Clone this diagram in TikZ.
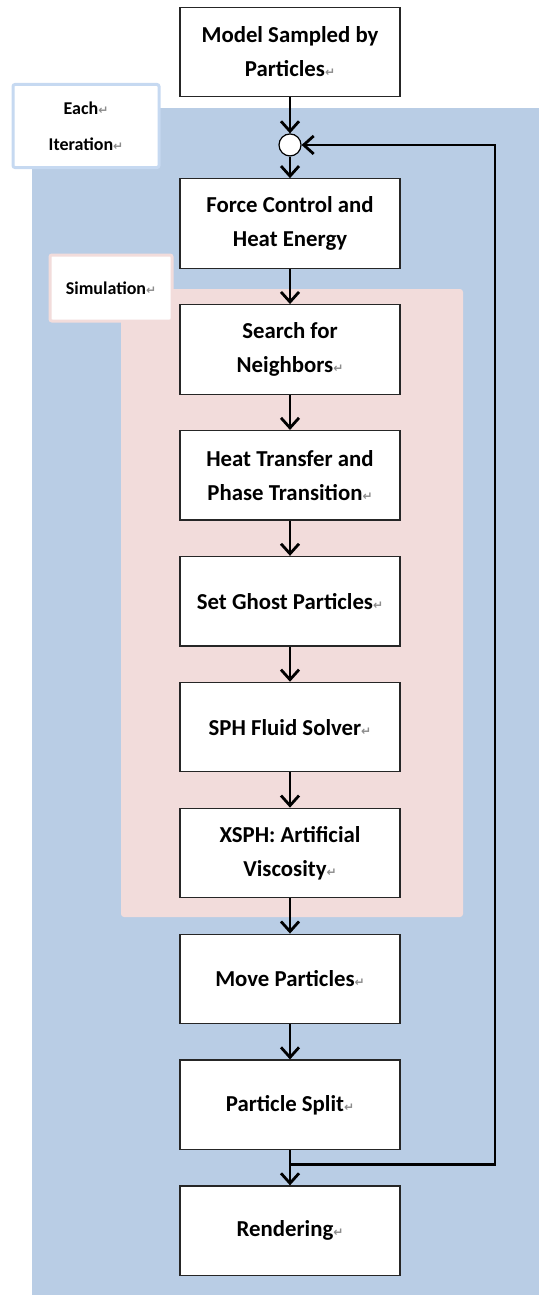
\documentclass[tikz,border=0pt]{standalone}
\usepackage{fontspec}
\setmainfont{Carlito}
\newfontfamily\marksfont{DejaVu Sans}
\usetikzlibrary{arrows.meta, positioning}

\definecolor{iterblue}{HTML}{B9CDE5}
\definecolor{iteredge}{HTML}{C6D9F1}
\definecolor{simpink}{HTML}{F2DCDB}
\newcommand{\parmark}{{\marksfont\fontsize{6}{6}\selectfont\color{black!45}↵}}

\begin{document}
\begin{tikzpicture}[x=0.5pt, y=-0.5pt,
        stepbox/.style={draw=black!85, line width=0.6pt, fill=white, minimum width=110pt, minimum height=44.75pt, align=center, font=\bfseries\fontsize{11.4}{17}\selectfont},
        tagbox/.style={fill=white, line width=1.5pt, rounded corners=1pt, align=center, font=\bfseries\fontsize{9}{18}\selectfont},
        flow/.style={-{Straight Barb[length=5pt, width=9pt]}, line width=1.4pt}]
        \useasboundingbox (0,0) rectangle (539,1295);

        % background regions
        \fill[iterblue] (32,108) rectangle (539,1295);
        \fill[simpink, rounded corners=1.5pt] (121,289) rectangle (463,917);
        \node[tagbox, draw=iteredge, minimum width=73pt, minimum height=41.5pt] (iter) at (86,126) {Each\parmark\\Iteration\parmark};
        \node[tagbox, draw=simpink, minimum width=61pt, minimum height=33pt] (sim) at (111,288) {Simulation\parmark};

        \node[stepbox] (model) at (290,52) {Model Sampled by\\Particles\parmark};
        \node[circle, draw, fill=white, line width=0.6pt, minimum size=11pt, inner sep=0pt, below=18pt] (loop) at (model.south) {};
        \node[stepbox, below=10.8pt] (force) at (loop.south) {Force Control and\\Heat Energy};
        \node[stepbox, below=17.6pt] (search) at (force.south) {Search for\\Neighbors\parmark};
        \node[stepbox, below=17.6pt] (heat) at (search.south) {Heat Transfer and\\Phase Transition\parmark};
        \node[stepbox, below=17.6pt] (ghost) at (heat.south) {Set Ghost Particles\parmark};
        \node[stepbox, below=17.6pt] (sph) at (ghost.south) {SPH Fluid Solver\parmark};
        \node[stepbox, below=17.6pt] (xsph) at (sph.south) {XSPH: Artificial\\Viscosity\parmark};
        \node[stepbox, below=17.6pt] (move) at (xsph.south) {Move Particles\parmark};
        \node[stepbox, below=17.6pt] (split) at (move.south) {Particle Split\parmark};
        \node[stepbox, below=17.6pt] (render) at (split.south) {Rendering\parmark};

        \draw[flow] (model) -- (loop);
        \draw[flow] (loop) -- (force);
        \draw[flow] (force) -- (search);
        \draw[flow] (search) -- (heat);
        \draw[flow] (heat) -- (ghost);
        \draw[flow] (ghost) -- (sph);
        \draw[flow] (sph) -- (xsph);
        \draw[flow] (xsph) -- (move);
        \draw[flow] (move) -- (split);
        \draw[flow] (split) -- (render);

        % loop back
        \coordinate[below=7pt] (junc) at (split.south);
        \coordinate (back) at (495,600);
        \draw[flow] (junc) -| (back) |- (loop.east);
    \end{tikzpicture}
\end{document}
